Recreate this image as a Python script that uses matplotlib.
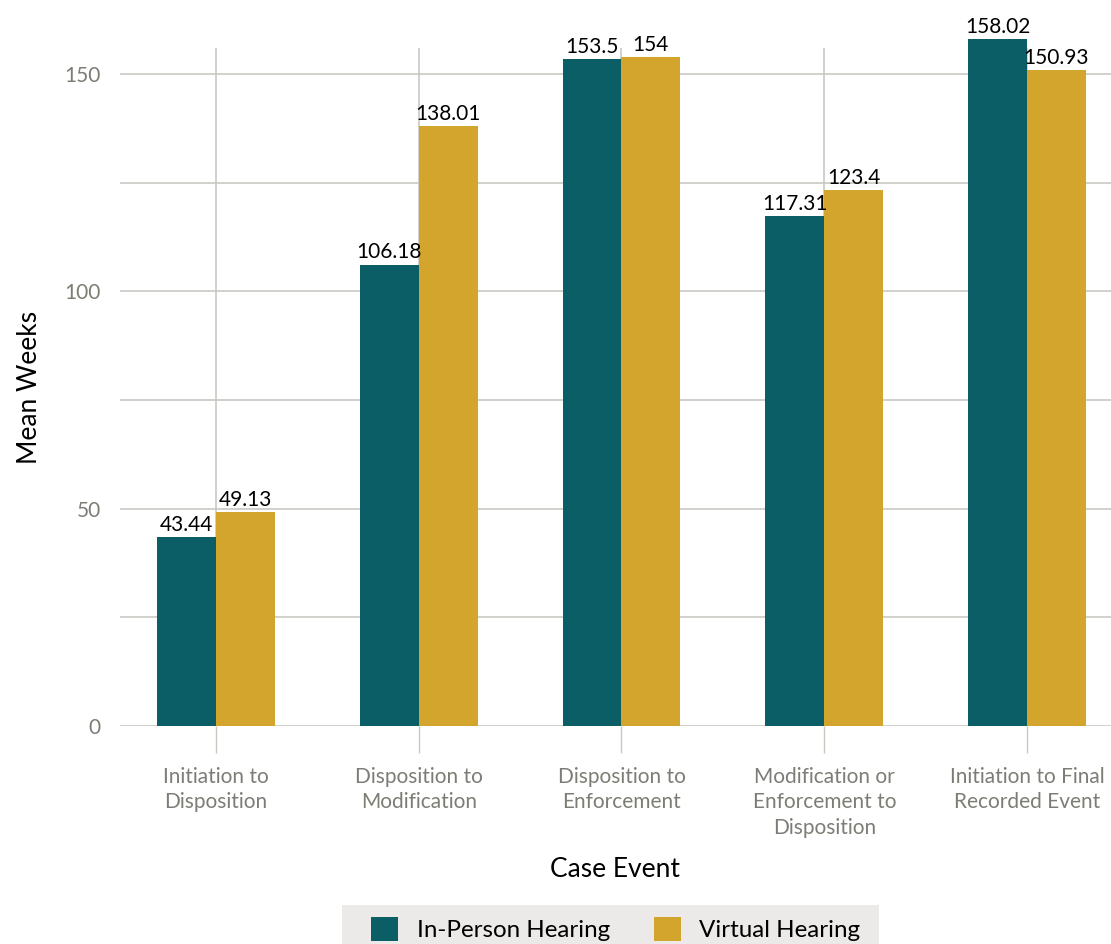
import numpy as np
import matplotlib.pyplot as plt
from matplotlib.patches import Rectangle

plt.rcParams['font.family'] = ['Lato', 'DejaVu Sans']

categories = ['Initiation to\nDisposition', 'Disposition to\nModification',
              'Disposition to\nEnforcement', 'Modification or\nEnforcement to\nDisposition',
              'Initiation to Final\nRecorded Event']
in_person = [43.44, 106.18, 153.5, 117.31, 158.02]
virtual = [49.13, 138.01, 154, 123.4, 150.93]
in_person_labels = ['43.44', '106.18', '153.5', '117.31', '158.02']
virtual_labels = ['49.13', '138.01', '154', '123.4', '150.93']

teal = '#0b5d66'
gold = '#d4a52c'
grid_col = '#c9c9c2'
tick_col = '#7d7d76'

fig = plt.figure(figsize=(11.11, 9.44), dpi=100)
ax = fig.add_axes([120 / 1111, 1 - 726 / 944, 1 - 120 / 1111, (726 - 48) / 944])

x = np.arange(len(categories))
w = 0.29
b1 = ax.bar(x - w / 2, in_person, w, color=teal, label='In-Person Hearing', zorder=3, clip_on=False)
b2 = ax.bar(x + w / 2, virtual, w, color=gold, label='Virtual Hearing', zorder=3, clip_on=False)

for bars, labs in ((b1, in_person_labels), (b2, virtual_labels)):
    for r, t in zip(bars, labs):
        ax.annotate(t, (r.get_x() + r.get_width() / 2, r.get_height()),
                    xytext=(0, 1.5), textcoords='offset points', ha='center', va='bottom',
                    fontsize=15, color='black', annotation_clip=False)

ax.set_xlim(-0.473, 4.414)
ax.set_ylim(0, 156)
ax.set_yticks([0, 25, 50, 75, 100, 125, 150])
ax.set_yticklabels(['0', '', '50', '', '100', '', '150'])
ax.set_xticks(x)
ax.set_xticklabels(categories, fontsize=15, color=tick_col, linespacing=1.34)
ax.tick_params(axis='y', length=0, pad=14, labelsize=15, labelcolor=tick_col)
ax.tick_params(axis='x', length=19.5, width=1.0, color=grid_col, pad=10)
ax.grid(True, color=grid_col, linewidth=1.2, zorder=0)
for s in ax.spines.values():
    s.set_visible(False)

ax.set_ylabel('Mean Weeks', fontsize=19, labelpad=16)
ax.set_xlabel('Case Event', fontsize=19, labelpad=14)

# legend strip at the bottom
fig.patches.append(Rectangle((342 / 1111, 0), (879 - 342) / 1111, (944 - 905) / 944,
                             transform=fig.transFigure, facecolor='#ebeae8', edgecolor='none'))
leg = fig.legend(loc='upper left', bbox_to_anchor=(371 / 1111, 1 - 917 / 944), ncol=2,
                 fontsize=17.4, frameon=False, handlelength=1.12, handleheight=1.12,
                 handletextpad=0.78, columnspacing=1.8, borderpad=0, borderaxespad=0)

fig.savefig('out.png', dpi=100)
